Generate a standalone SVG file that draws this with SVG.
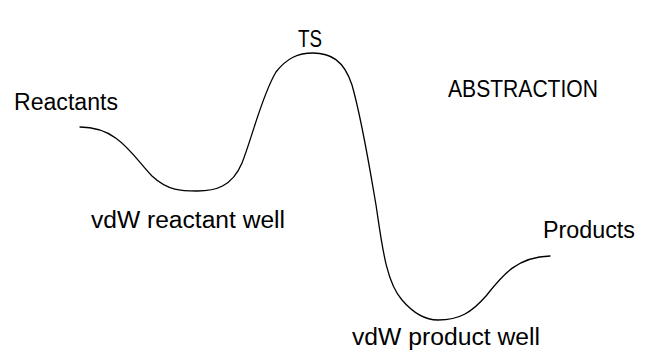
<svg xmlns="http://www.w3.org/2000/svg" width="652" height="362" viewBox="0 0 652 362">
<style>
.lbl{font-family:"Liberation Sans","Open Sans",Arial,sans-serif;font-size:23px;fill:#000}
.curve{fill:none;stroke:#000;stroke-width:1.3;stroke-linecap:round}
</style>
<rect width="652" height="362" fill="#fff"/>
<path class="curve" d="M80,127 C118,127 132,155 152,176 C168,191 182,191 197,191 C215,191 232,187 242,163 C252,138 262,95 276,72 C287,58 298,53 313,53 C330,53 344,60 352,85 C362,120 370,170 376,205 C382,245 386,282 402,300 C414,314 425,320 438,320 C460,320 472,312 486,296 C502,276 516,257 550,256"/>
<g id="reactants"><text class="lbl" x="14" y="110" textLength="104" lengthAdjust="spacingAndGlyphs">Reactants</text></g>
<g id="ts"><text class="lbl" x="298" y="47" textLength="24" lengthAdjust="spacingAndGlyphs">TS</text></g>
<g id="abstraction"><text class="lbl" x="448" y="97" textLength="150" lengthAdjust="spacingAndGlyphs">ABSTRACTION</text></g>
<g id="vdw-reactant"><text class="lbl" x="91" y="228" textLength="194" lengthAdjust="spacingAndGlyphs">vdW reactant well</text></g>
<g id="products"><text class="lbl" x="543" y="238" textLength="92" lengthAdjust="spacingAndGlyphs">Products</text></g>
<g id="vdw-product"><text class="lbl" x="352" y="345" textLength="188" lengthAdjust="spacingAndGlyphs">vdW product well</text></g>
</svg>
